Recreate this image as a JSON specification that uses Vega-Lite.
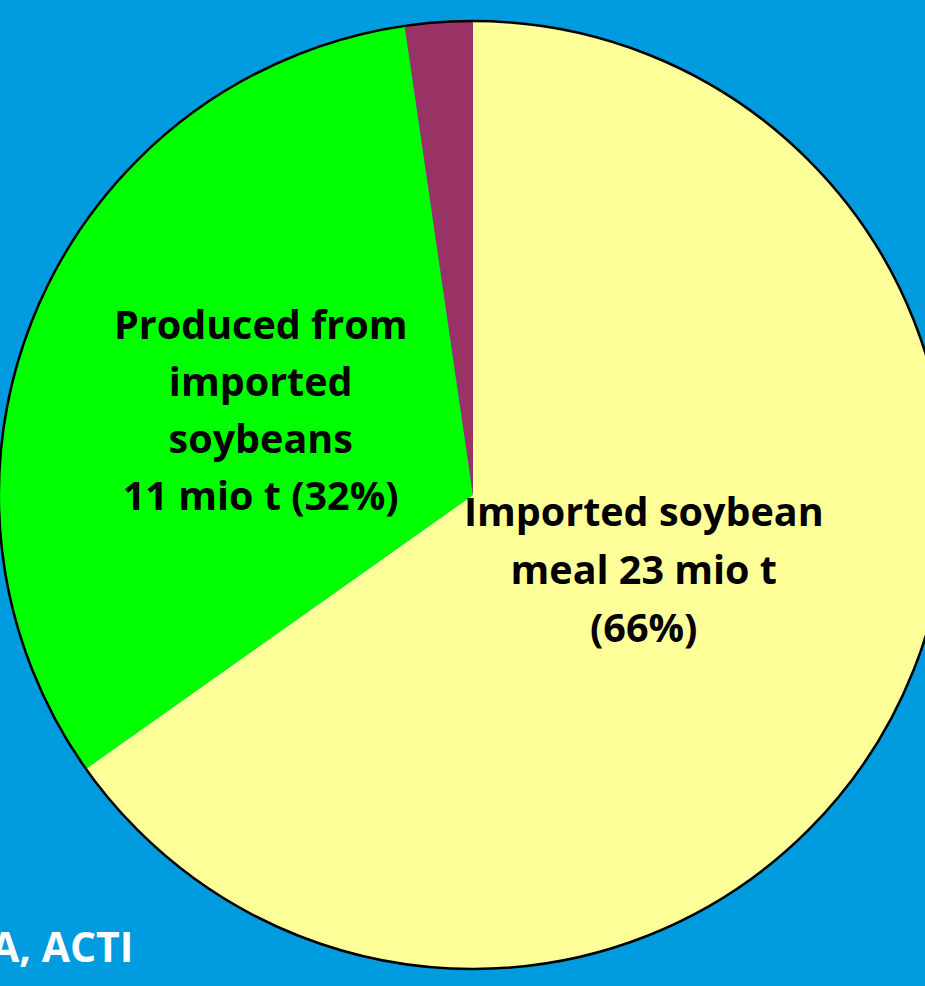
{
  "$schema": "https://vega.github.io/schema/vega-lite/v6.json",
  "width": 904,
  "height": 982,
  "autosize": "none",
  "padding": {"left": 21, "top": 4, "right": 0, "bottom": 0},
  "background": "#009ADE",
  "config": {"view": {"stroke": null}},
  "title": {
    "text": "A, ACTI",
    "orient": "bottom",
    "anchor": "start",
    "offset": -56,
    "dx": -3,
    "color": "white",
    "font": "Open Sans",
    "fontSize": 41,
    "fontWeight": "bold",
    "baseline": "top"
  },
  "data": {
    "values": [
      {"category": "Imported soybean meal", "share": 65.2, "label": "Imported soybean\nmeal 23 mio t\n(66%)"},
      {"category": "Produced from imported soybeans", "share": 32.5, "label": "Produced from\nimported\nsoybeans\n11 mio t (32%)"},
      {"category": "Other", "share": 2.3, "label": ""}
    ]
  },
  "layer": [
    {
      "mark": {"type": "arc", "radius": 474},
      "encoding": {
        "theta": {"field": "share", "type": "quantitative", "stack": true},
        "order": {"field": "share", "type": "quantitative", "sort": "descending"},
        "color": {
          "field": "category",
          "type": "nominal",
          "scale": {
            "domain": ["Imported soybean meal", "Produced from imported soybeans", "Other"],
            "range": ["#FFFF99", "#00FF00", "#993366"]
          },
          "legend": null
        }
      }
    },
    {
      "data": {"values": [{"outline": "pie edge"}]},
      "mark": {"type": "arc", "radius": 474, "theta": 0, "theta2": 6.2832, "filled": false, "stroke": "black", "strokeWidth": 2.5},
      "encoding": {}
    },
    {
      "mark": {"type": "text", "radius": 190, "dy": -68, "dx": 2, "font": "Open Sans", "fontSize": 39.5, "fontWeight": "bold", "color": "black", "lineBreak": "\n", "lineHeight": 58, "baseline": "middle", "align": "center"},
      "encoding": {
        "theta": {"field": "share", "type": "quantitative", "stack": true},
        "order": {"field": "share", "type": "quantitative", "sort": "descending"},
        "text": {"condition": {"test": "datum.category === 'Imported soybean meal'", "field": "label"}, "value": ""}
      }
    },
    {
      "mark": {"type": "text", "radius": 231, "dy": -77, "font": "Open Sans", "fontSize": 39.5, "fontWeight": "bold", "color": "black", "lineBreak": "\n", "lineHeight": 57, "baseline": "middle", "align": "center"},
      "encoding": {
        "theta": {"field": "share", "type": "quantitative", "stack": true},
        "order": {"field": "share", "type": "quantitative", "sort": "descending"},
        "text": {"condition": {"test": "datum.category === 'Produced from imported soybeans'", "field": "label"}, "value": ""}
      }
    }
  ]
}
